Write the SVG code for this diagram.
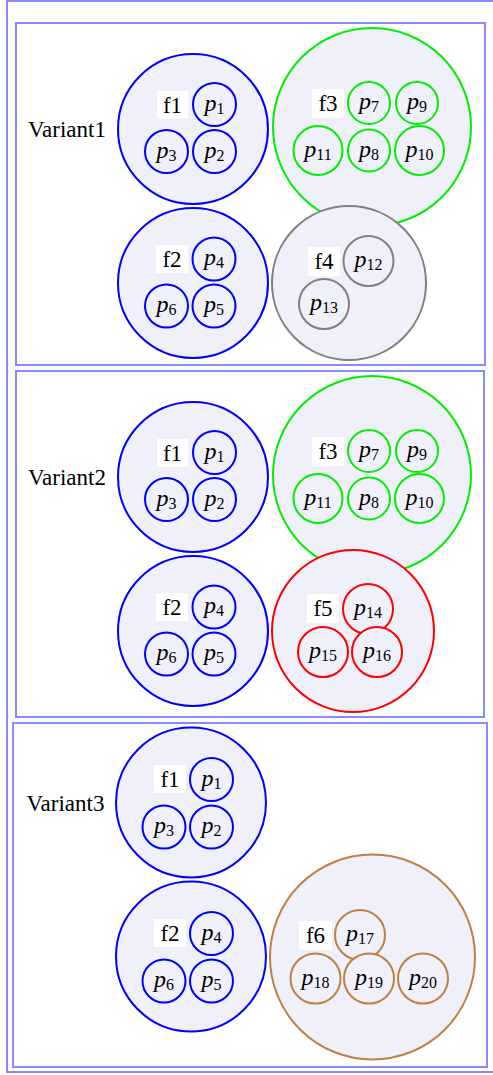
<svg xmlns="http://www.w3.org/2000/svg" width="493" height="1075" viewBox="0 0 493 1075">
<style>
.frame{fill:none;stroke:#8888ff;stroke-width:2}
.panel{fill:#ffffff;stroke:#8888ff;stroke-width:2}
.big{fill:#f0f0fb;stroke-width:2}
.sm{fill:#f0f0fb;stroke-width:2}
.blue{stroke:#0000ff}
.green{stroke:#00ee00}
.gray{stroke:#808080}
.red{stroke:#ff0000}
.brown{stroke:#c08040}
.lbox{fill:#ffffff;stroke:none}
.t{font-family:"Liberation Serif","Times New Roman",serif;font-size:23px;fill:#000;text-anchor:middle}
.p{font-family:"Liberation Serif","Times New Roman",serif;font-size:24px;fill:#000;text-anchor:middle}
.i{font-style:italic}
.s{font-size:16px}
</style>
<rect class="frame" x="7" y="1" width="490" height="1071"/>
<g id="variant1">
<rect class="panel" x="16" y="23" width="469" height="342"/>
<text class="t" x="67" y="137">Variant1</text>
<g id="v1_f1">
<circle class="big blue" cx="193" cy="129" r="75"/>
<rect class="lbox" x="157" y="91" width="31" height="28"/><text class="t" x="172.5" y="113">f1</text>
<circle class="sm blue" cx="214.5" cy="104.5" r="21.5"/><text class="p" x="214.5" y="110.5"><tspan class="i">p</tspan><tspan class="s" dy="3">1</tspan></text>
<circle class="sm blue" cx="166.5" cy="151.5" r="21.5"/><text class="p" x="166.5" y="157.5"><tspan class="i">p</tspan><tspan class="s" dy="3">3</tspan></text>
<circle class="sm blue" cx="214.5" cy="151.5" r="21.5"/><text class="p" x="214.5" y="157.5"><tspan class="i">p</tspan><tspan class="s" dy="3">2</tspan></text>
</g>
<g id="v1_f2">
<circle class="big blue" cx="193" cy="283" r="75"/>
<rect class="lbox" x="156" y="245" width="32" height="28"/><text class="t" x="172" y="267">f2</text>
<circle class="sm blue" cx="214" cy="259" r="21.5"/><text class="p" x="214" y="265"><tspan class="i">p</tspan><tspan class="s" dy="3">4</tspan></text>
<circle class="sm blue" cx="166.5" cy="306" r="21.5"/><text class="p" x="166.5" y="312"><tspan class="i">p</tspan><tspan class="s" dy="3">6</tspan></text>
<circle class="sm blue" cx="214" cy="306" r="21.5"/><text class="p" x="214" y="312"><tspan class="i">p</tspan><tspan class="s" dy="3">5</tspan></text>
</g>
<g id="v1_f3">
<circle class="big green" cx="372" cy="127" r="99"/>
<rect class="lbox" x="312" y="89" width="32" height="29"/><text class="t" x="328" y="111">f3</text>
<circle class="sm green" cx="369" cy="103" r="21"/><text class="p" x="369" y="109"><tspan class="i">p</tspan><tspan class="s" dy="3">7</tspan></text>
<circle class="sm green" cx="417" cy="103" r="21"/><text class="p" x="417" y="109"><tspan class="i">p</tspan><tspan class="s" dy="3">9</tspan></text>
<circle class="sm green" cx="318" cy="150.5" r="24.5"/><text class="p" x="318" y="156.5"><tspan class="i">p</tspan><tspan class="s" dy="3">11</tspan></text>
<circle class="sm green" cx="369" cy="150.5" r="21"/><text class="p" x="369" y="156.5"><tspan class="i">p</tspan><tspan class="s" dy="3">8</tspan></text>
<circle class="sm green" cx="419.5" cy="150.5" r="24.5"/><text class="p" x="419.5" y="156.5"><tspan class="i">p</tspan><tspan class="s" dy="3">10</tspan></text>
</g>
<g id="v1_f4">
<circle class="big gray" cx="349" cy="283" r="77"/>
<rect class="lbox" x="308" y="247" width="32" height="29"/><text class="t" x="324" y="269">f4</text>
<circle class="sm gray" cx="368.5" cy="261" r="25"/><text class="p" x="368.5" y="267"><tspan class="i">p</tspan><tspan class="s" dy="3">12</tspan></text>
<circle class="sm gray" cx="324" cy="304" r="25"/><text class="p" x="324" y="310"><tspan class="i">p</tspan><tspan class="s" dy="3">13</tspan></text>
</g>
</g>
<g id="variant2">
<rect class="panel" x="16" y="371" width="468" height="346"/>
<text class="t" x="67" y="485">Variant2</text>
<g id="v2_f1">
<circle class="big blue" cx="193" cy="477" r="75"/>
<rect class="lbox" x="157" y="439" width="31" height="28"/><text class="t" x="172.5" y="461">f1</text>
<circle class="sm blue" cx="214.5" cy="452.5" r="21.5"/><text class="p" x="214.5" y="458.5"><tspan class="i">p</tspan><tspan class="s" dy="3">1</tspan></text>
<circle class="sm blue" cx="166.5" cy="499.5" r="21.5"/><text class="p" x="166.5" y="505.5"><tspan class="i">p</tspan><tspan class="s" dy="3">3</tspan></text>
<circle class="sm blue" cx="214.5" cy="499.5" r="21.5"/><text class="p" x="214.5" y="505.5"><tspan class="i">p</tspan><tspan class="s" dy="3">2</tspan></text>
</g>
<g id="v2_f2">
<circle class="big blue" cx="193" cy="631" r="75"/>
<rect class="lbox" x="156" y="593" width="32" height="28"/><text class="t" x="172" y="615">f2</text>
<circle class="sm blue" cx="214" cy="607" r="21.5"/><text class="p" x="214" y="613"><tspan class="i">p</tspan><tspan class="s" dy="3">4</tspan></text>
<circle class="sm blue" cx="166.5" cy="654" r="21.5"/><text class="p" x="166.5" y="660"><tspan class="i">p</tspan><tspan class="s" dy="3">6</tspan></text>
<circle class="sm blue" cx="214" cy="654" r="21.5"/><text class="p" x="214" y="660"><tspan class="i">p</tspan><tspan class="s" dy="3">5</tspan></text>
</g>
<g id="v2_f3">
<circle class="big green" cx="372" cy="475" r="99"/>
<rect class="lbox" x="312" y="437" width="32" height="29"/><text class="t" x="328" y="459">f3</text>
<circle class="sm green" cx="369" cy="451" r="21"/><text class="p" x="369" y="457"><tspan class="i">p</tspan><tspan class="s" dy="3">7</tspan></text>
<circle class="sm green" cx="417" cy="451" r="21"/><text class="p" x="417" y="457"><tspan class="i">p</tspan><tspan class="s" dy="3">9</tspan></text>
<circle class="sm green" cx="318" cy="498.5" r="24.5"/><text class="p" x="318" y="504.5"><tspan class="i">p</tspan><tspan class="s" dy="3">11</tspan></text>
<circle class="sm green" cx="369" cy="498.5" r="21"/><text class="p" x="369" y="504.5"><tspan class="i">p</tspan><tspan class="s" dy="3">8</tspan></text>
<circle class="sm green" cx="419.5" cy="498.5" r="24.5"/><text class="p" x="419.5" y="504.5"><tspan class="i">p</tspan><tspan class="s" dy="3">10</tspan></text>
</g>
<g id="v2_f5">
<circle class="big red" cx="353" cy="631" r="81"/>
<rect class="lbox" x="307" y="594" width="32" height="29"/><text class="t" x="323" y="616">f5</text>
<circle class="sm red" cx="368" cy="609" r="25"/><text class="p" x="368" y="615"><tspan class="i">p</tspan><tspan class="s" dy="3">14</tspan></text>
<circle class="sm red" cx="323" cy="652" r="25"/><text class="p" x="323" y="658"><tspan class="i">p</tspan><tspan class="s" dy="3">15</tspan></text>
<circle class="sm red" cx="377" cy="652" r="25"/><text class="p" x="377" y="658"><tspan class="i">p</tspan><tspan class="s" dy="3">16</tspan></text>
</g>
</g>
<g id="variant3">
<rect class="panel" x="13" y="723" width="474" height="344"/>
<text class="t" x="65.5" y="811">Variant3</text>
<g id="v3_f1">
<circle class="big blue" cx="191" cy="802.5" r="75"/>
<rect class="lbox" x="154" y="765" width="32" height="28"/><text class="t" x="170" y="787">f1</text>
<circle class="sm blue" cx="211.5" cy="779.5" r="21.5"/><text class="p" x="211.5" y="785.5"><tspan class="i">p</tspan><tspan class="s" dy="3">1</tspan></text>
<circle class="sm blue" cx="164" cy="827" r="21.5"/><text class="p" x="164" y="833"><tspan class="i">p</tspan><tspan class="s" dy="3">3</tspan></text>
<circle class="sm blue" cx="211.5" cy="827" r="21.5"/><text class="p" x="211.5" y="833"><tspan class="i">p</tspan><tspan class="s" dy="3">2</tspan></text>
</g>
<g id="v3_f2">
<circle class="big blue" cx="191" cy="956.5" r="75"/>
<rect class="lbox" x="154" y="919" width="32" height="28"/><text class="t" x="170" y="941">f2</text>
<circle class="sm blue" cx="211.5" cy="933.5" r="21.5"/><text class="p" x="211.5" y="939.5"><tspan class="i">p</tspan><tspan class="s" dy="3">4</tspan></text>
<circle class="sm blue" cx="164" cy="981" r="21.5"/><text class="p" x="164" y="987"><tspan class="i">p</tspan><tspan class="s" dy="3">6</tspan></text>
<circle class="sm blue" cx="211.5" cy="981" r="21.5"/><text class="p" x="211.5" y="987"><tspan class="i">p</tspan><tspan class="s" dy="3">5</tspan></text>
</g>
<g id="v3_f6">
<circle class="big brown" cx="372.5" cy="957" r="102.5"/>
<rect class="lbox" x="299" y="921" width="33" height="29"/><text class="t" x="315.5" y="943">f6</text>
<circle class="sm brown" cx="360" cy="935" r="25"/><text class="p" x="360" y="941"><tspan class="i">p</tspan><tspan class="s" dy="3">17</tspan></text>
<circle class="sm brown" cx="315.5" cy="978.5" r="25"/><text class="p" x="315.5" y="984.5"><tspan class="i">p</tspan><tspan class="s" dy="3">18</tspan></text>
<circle class="sm brown" cx="369" cy="978.5" r="25"/><text class="p" x="369" y="984.5"><tspan class="i">p</tspan><tspan class="s" dy="3">19</tspan></text>
<circle class="sm brown" cx="423" cy="978.5" r="25"/><text class="p" x="423" y="984.5"><tspan class="i">p</tspan><tspan class="s" dy="3">20</tspan></text>
</g>
</g>
<g id="connectors"/>
</svg>
